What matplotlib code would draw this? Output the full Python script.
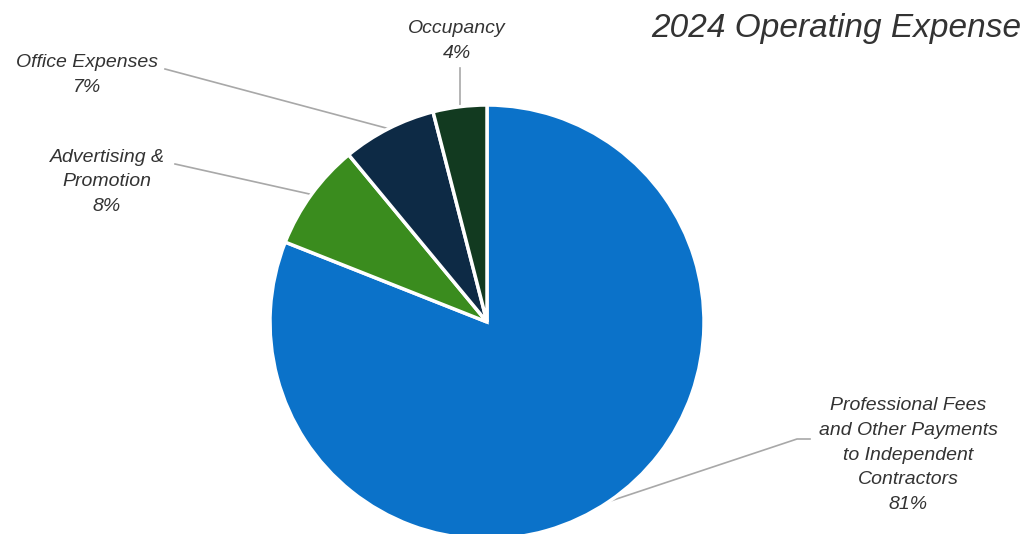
import numpy as np
import matplotlib
matplotlib.use("Agg")
import matplotlib.pyplot as plt

plt.rcParams['font.family'] = ['Liberation Sans', 'DejaVu Sans']

categories = ["Professional Fees\nand Other Payments\nto Independent\nContractors",
              "Advertising &\nPromotion", "Office Expenses", "Occupancy"]
shares = [81, 8, 7, 4]
colors = ["#0B72C9", "#3A8C1E", "#0D2A45", "#123A20"]

# layout (pixel coords, origin bottom-left)
W, H = 1031, 534
cx, cy, r = 487, 212, 217
label_pos = [(908, 79), (107, 352), (87, 459), (457, 493)]
elbow = [(797, 95), (175, 370), (165, 465), (None, 466)]

fig = plt.figure(figsize=(W / 100, H / 100), dpi=100)
ax = fig.add_axes([0, 0, 1, 1])
wedges, _ = ax.pie(shares, colors=colors, startangle=90, counterclock=False,
                   center=(cx, cy), radius=r, frame=True,
                   wedgeprops=dict(edgecolor="white", linewidth=2.5))
ax.set_xlim(0, W)
ax.set_ylim(0, H)
ax.set_aspect("equal")
ax.axis("off")

for w, name, val, (tx, ty), (ex, ey) in zip(wedges, categories, shares, label_pos, elbow):
    mid = np.deg2rad((w.theta1 + w.theta2) / 2)
    px, py = cx + r * np.cos(mid), cy + r * np.sin(mid)
    if ex is None:
        ex = px
    if name.startswith("Professional"):
        ax.plot([px, ex, ex + 13], [py, ey, ey], color="#A8A8A8", lw=1.2, zorder=0)
    else:
        ax.plot([px, ex], [py, ey], color="#A8A8A8", lw=1.2, zorder=0)
    ax.text(tx, ty, f"{name}\n{val}%", ha="center", va="center", fontsize=14,
            style="italic", color="#333333", linespacing=1.58)

ax.text(836, 506, "2024 Operating Expense", ha="center", va="center",
        fontsize=24, style="italic", color="#333333")

fig.savefig("out.png", dpi=100)
